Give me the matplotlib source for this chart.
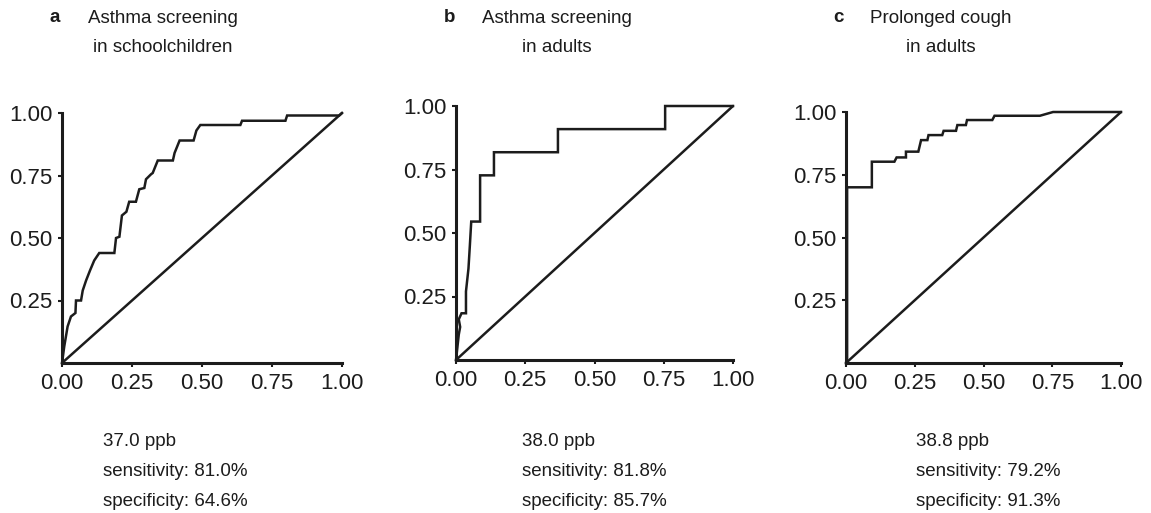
import matplotlib
matplotlib.use("Agg")
import matplotlib.pyplot as plt

plt.rcParams['font.family'] = ['Liberation Sans', 'DejaVu Sans']

# ---- data ----
panel_letters = ["a", "b", "c"]
panel_titles = ["Asthma screening\nin schoolchildren", "Asthma screening\nin adults", "Prolonged cough\nin adults"]
cutoffs = ["37.0 ppb", "38.0 ppb", "38.8 ppb"]
sensitivities = ["81.0%", "81.8%", "79.2%"]
specificities = ["64.6%", "85.7%", "91.3%"]

fpr_a = [0, 0.008, 0.02, 0.032, 0.048, 0.05, 0.068, 0.074, 0.086, 0.10, 0.115, 0.133, 0.187,
         0.193, 0.205, 0.214, 0.23, 0.24, 0.264, 0.276, 0.294, 0.30, 0.318, 0.324, 0.342,
         0.396, 0.402, 0.42, 0.47, 0.48, 0.494, 0.637, 0.643, 0.798, 0.804, 0.99, 1.0]
tpr_a = [0, 0.066, 0.146, 0.186, 0.20, 0.25, 0.25, 0.29, 0.33, 0.37, 0.41, 0.44, 0.44,
         0.50, 0.505, 0.59, 0.605, 0.645, 0.645, 0.695, 0.70, 0.735, 0.755, 0.76, 0.81,
         0.81, 0.84, 0.89, 0.89, 0.93, 0.952, 0.952, 0.969, 0.969, 0.99, 0.99, 1.0]

fpr_b = [0, 0.005, 0.01, 0.015, 0.01, 0.02, 0.036, 0.036, 0.045, 0.05, 0.055, 0.087, 0.087,
         0.137, 0.137, 0.368, 0.368, 0.755, 0.755, 1.0]
tpr_b = [0, 0.05, 0.10, 0.13, 0.16, 0.184, 0.184, 0.27, 0.36, 0.45, 0.545, 0.545, 0.727,
         0.727, 0.818, 0.818, 0.909, 0.909, 1.0, 1.0]

fpr_c = [0, 0.004, 0.004, 0.094, 0.094, 0.176, 0.184, 0.218, 0.218, 0.263, 0.273, 0.296, 0.30,
         0.35, 0.355, 0.40, 0.405, 0.436, 0.44, 0.532, 0.54, 0.705, 0.753, 1.0]
tpr_c = [0, 0.0, 0.70, 0.70, 0.802, 0.802, 0.819, 0.819, 0.842, 0.842, 0.888, 0.888, 0.908,
         0.908, 0.925, 0.925, 0.948, 0.948, 0.968, 0.968, 0.985, 0.985, 1.0, 1.0]

diag = [0, 1]
xticks = [0.0, 0.25, 0.5, 0.75, 1.0]
yticks = [0.25, 0.5, 0.75, 1.0]

curves = [(fpr_a, tpr_a), (fpr_b, tpr_b), (fpr_c, tpr_c)]

# ---- layout ----
W, H = 1151, 513
fig = plt.figure(figsize=(W / 100, H / 100), dpi=100)
ink = "#1c1c1c"

boxes = [(62, 342, 363, 113), (456, 733, 360, 106), (846, 1121, 363, 112)]
letter_x = [55, 450, 838]
title_x = [163, 557, 941]
text_x = [103, 522, 916]

for i, (fx, ty) in enumerate(curves):
    x0, x1, yb, yt = boxes[i]
    ax = fig.add_axes([x0 / W, 1 - yb / H, (x1 - x0) / W, (yb - yt) / H])
    ax.plot(diag, diag, color=ink, lw=1.8, clip_on=False, solid_capstyle='round')
    ax.plot(fx, ty, color=ink, lw=1.8, clip_on=False, solid_joinstyle='miter')
    ax.set_xlim(0, 1)
    ax.set_ylim(0, 1)
    for s in ['top', 'right']:
        ax.spines[s].set_visible(False)
    for s in ['left', 'bottom']:
        ax.spines[s].set_linewidth(2.2)
        ax.spines[s].set_color(ink)
    ax.set_xticks(xticks)
    ax.set_xticklabels([f"{v:.2f}" for v in xticks])
    ax.set_yticks(yticks)
    ax.set_yticklabels([f"{v:.2f}" for v in yticks])
    ax.tick_params(axis='both', direction='out', length=3, width=1.5, color=ink,
                   labelsize=16, labelcolor=ink, pad=4)

    fig.text(letter_x[i] / W, 1 - 18 / H, panel_letters[i], fontsize=13.5, fontweight='bold',
             ha='center', va='center', color=ink)
    fig.text(title_x[i] / W, 1 - 33 / H, panel_titles[i], fontsize=13.5, ha='center',
             va='center', color=ink, linespacing=1.9)
    fig.text(text_x[i] / W, 1 - 441 / H, cutoffs[i], fontsize=13.5, ha='left', va='center', color=ink)
    fig.text(text_x[i] / W, 1 - 471 / H, "sensitivity: " + sensitivities[i], fontsize=13.5,
             ha='left', va='center', color=ink)
    fig.text(text_x[i] / W, 1 - 502 / H, "specificity: " + specificities[i], fontsize=13.5,
             ha='left', va='center', color=ink)

fig.savefig("out.png", dpi=100)
